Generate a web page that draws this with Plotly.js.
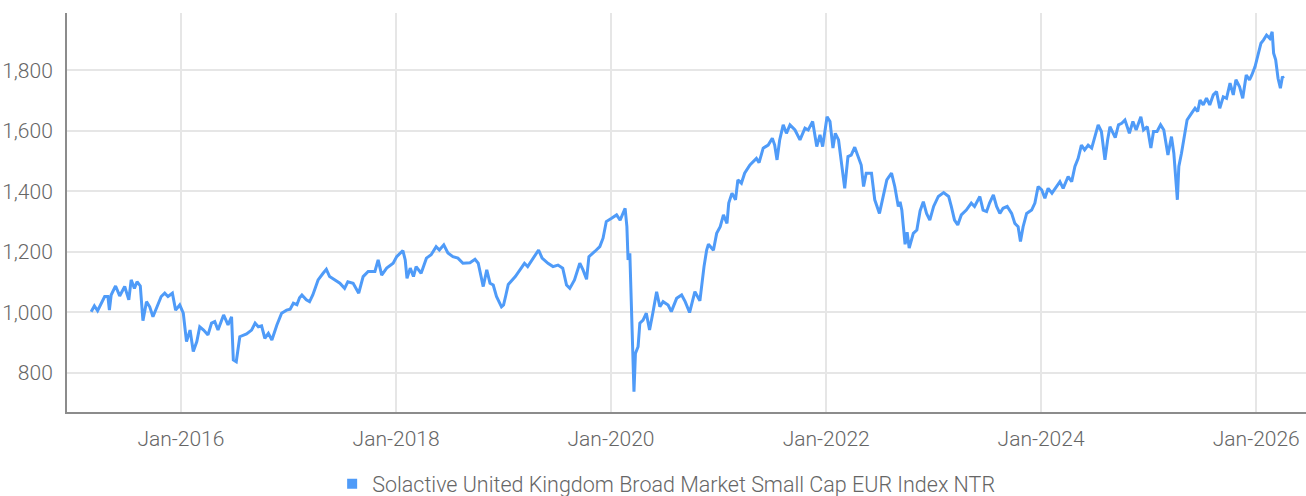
<!DOCTYPE html>
<html>
<head>
<meta charset="utf-8">
<script src="https://cdn.plot.ly/plotly-3.0.1.min.js"></script>
<style>
html,body{margin:0;padding:0;background:#fff;}
#chart{width:1306px;height:496px;}
</style>
</head>
<body>
<div id="chart"></div>
<script>
const seriesName = "Solactive United Kingdom Broad Market Small Cap EUR Index NTR";

const dates = [
"2015-03-02","2015-03-13","2015-03-24","2015-04-05","2015-04-17","2015-04-28","2015-05-03","2015-05-09","2015-05-24","2015-06-07",
"2015-06-24","2015-07-08","2015-07-16","2015-07-27","2015-08-05","2015-08-16","2015-08-25","2015-09-06","2015-09-17","2015-09-28",
"2015-10-11","2015-10-26","2015-11-07","2015-11-18","2015-12-03","2015-12-14","2015-12-28","2016-01-09","2016-01-20","2016-02-01",
"2016-02-12","2016-02-24","2016-03-05","2016-03-18","2016-04-02","2016-04-14","2016-04-25","2016-05-06","2016-05-25","2016-06-09",
"2016-06-21","2016-06-27","2016-07-07","2016-07-19","2016-08-11","2016-08-28","2016-09-09","2016-09-20","2016-10-01","2016-10-12",
"2016-10-24","2016-11-05","2016-11-22","2016-12-08","2016-12-25","2017-01-06","2017-01-17","2017-01-29","2017-02-07","2017-02-15",
"2017-03-02","2017-03-13","2017-03-24","2017-04-11","2017-04-28","2017-05-09","2017-05-20","2017-06-07","2017-06-24","2017-07-10",
"2017-07-21","2017-08-08","2017-08-27","2017-09-11","2017-09-28","2017-10-21","2017-11-01","2017-11-13","2017-11-30","2017-12-22",
"2018-01-03","2018-01-24","2018-02-01","2018-02-07","2018-02-18","2018-03-01","2018-03-10","2018-03-27","2018-04-14","2018-04-30",
"2018-05-17","2018-05-28","2018-06-12","2018-06-26","2018-07-13","2018-07-30","2018-08-16","2018-09-09","2018-09-26","2018-10-07",
"2018-10-15","2018-10-24","2018-11-05","2018-11-16","2018-11-27","2018-12-08","2018-12-25","2019-01-01","2019-01-09","2019-01-17",
"2019-02-10","2019-02-27","2019-03-13","2019-03-24","2019-04-11","2019-04-30","2019-05-12","2019-06-01","2019-06-18","2019-07-05",
"2019-07-21","2019-08-03","2019-08-14","2019-08-30","2019-09-17","2019-09-28","2019-10-10","2019-10-18","2019-11-07","2019-11-24",
"2019-12-05","2019-12-16","2020-01-03","2020-01-20","2020-02-01","2020-02-18","2020-02-24","2020-02-28","2020-03-05","2020-03-10",
"2020-03-16","2020-03-19","2020-03-24","2020-04-02","2020-04-08","2020-04-19","2020-04-30","2020-05-11","2020-05-22","2020-06-04",
"2020-06-15","2020-06-26","2020-07-13","2020-07-24","2020-08-11","2020-08-28","2020-09-09","2020-09-24","2020-10-12","2020-10-29",
"2020-11-12","2020-11-21","2020-11-27","2020-12-14","2020-12-25","2021-01-06","2021-01-17","2021-01-29","2021-02-04","2021-02-15",
"2021-02-27","2021-03-07","2021-03-19","2021-03-30","2021-04-17","2021-04-28","2021-05-09","2021-05-18","2021-06-01","2021-06-18",
"2021-07-02","2021-07-10","2021-07-18","2021-07-27","2021-08-08","2021-08-19","2021-08-31","2021-09-17","2021-10-04","2021-10-21",
"2021-11-01","2021-11-16","2021-11-30","2021-12-11","2021-12-20","2022-01-04","2022-01-14","2022-01-24","2022-02-01","2022-02-12",
"2022-02-24","2022-03-05","2022-03-16","2022-03-27","2022-04-08","2022-04-19","2022-04-30","2022-05-08","2022-05-17","2022-06-04",
"2022-06-15","2022-07-01","2022-07-13","2022-07-26","2022-08-11","2022-08-22","2022-09-03","2022-09-09","2022-09-15","2022-09-26",
"2022-10-03","2022-10-10","2022-10-24","2022-11-05","2022-11-16","2022-11-27","2022-12-08","2022-12-19","2023-01-01","2023-01-17",
"2023-02-04","2023-02-21","2023-03-02","2023-03-13","2023-03-24","2023-04-05","2023-04-22","2023-05-09","2023-05-20","2023-06-07",
"2023-06-18","2023-06-30","2023-07-10","2023-07-23","2023-08-03","2023-08-14","2023-08-25","2023-09-08","2023-09-23","2023-10-04",
"2023-10-15","2023-10-23","2023-11-01","2023-11-13","2023-11-30","2023-12-11","2023-12-22","2024-01-03","2024-01-14","2024-01-25",
"2024-02-07","2024-02-24","2024-03-05","2024-03-16","2024-04-02","2024-04-14","2024-04-25","2024-05-06","2024-05-17","2024-05-28",
"2024-06-09","2024-06-21","2024-06-28","2024-07-13","2024-07-24","2024-08-05","2024-08-14","2024-08-22","2024-09-09","2024-09-20",
"2024-10-01","2024-10-12","2024-10-27","2024-11-08","2024-11-19","2024-12-05","2024-12-14","2024-12-27","2025-01-08","2025-01-17",
"2025-01-29","2025-02-10","2025-02-21","2025-02-28","2025-03-07","2025-03-19","2025-03-27","2025-04-08","2025-04-13","2025-04-22",
"2025-04-30","2025-05-11","2025-05-26","2025-06-07","2025-06-16","2025-06-24","2025-07-05","2025-07-16","2025-07-27","2025-08-08",
"2025-08-19","2025-08-30","2025-09-11","2025-09-22","2025-10-04","2025-10-15","2025-10-24","2025-11-05","2025-11-16","2025-11-28",
"2025-12-09","2025-12-17","2025-12-28","2026-01-09","2026-01-17","2026-01-26","2026-02-05","2026-02-16","2026-02-24","2026-03-01",
"2026-03-08","2026-03-16","2026-03-24","2026-03-31","2026-04-04"
];

const values = [
1002,1021,1005,1030,1052,1052,1007,1057,1087,1054,
1085,1041,1107,1079,1101,1087,972,1035,1018,985,
1018,1052,1063,1052,1063,1007,1024,997,903,941,
870,903,952,941,925,964,969,941,991,958,
985,842,836,919,928,941,964,952,955,914,
930,908,958,997,1007,1010,1030,1025,1048,1057,
1041,1035,1057,1107,1129,1142,1118,1107,1096,1079,
1101,1096,1063,1118,1135,1135,1173,1123,1146,1162,
1184,1204,1173,1112,1146,1118,1151,1129,1179,1190,
1217,1206,1223,1196,1184,1179,1162,1164,1175,1162,
1123,1085,1140,1096,1090,1052,1018,1024,1057,1092,
1118,1140,1162,1151,1179,1206,1179,1162,1151,1156,
1146,1090,1079,1107,1162,1140,1109,1184,1201,1217,
1245,1300,1311,1322,1305,1344,1283,1173,1195,1052,
864,737,864,886,964,974,997,941,997,1068,
1018,1035,1024,1002,1046,1057,1035,999,1068,1038,
1151,1206,1225,1205,1261,1283,1322,1294,1361,1394,
1372,1438,1427,1460,1487,1498,1509,1495,1543,1553,
1576,1553,1504,1570,1620,1592,1620,1603,1570,1609,
1603,1631,1548,1587,1548,1647,1631,1543,1592,1570,
1482,1410,1515,1520,1546,1515,1487,1416,1460,1460,
1372,1327,1383,1438,1460,1416,1350,1365,1338,1225,
1265,1212,1261,1272,1335,1366,1327,1305,1350,1383,
1396,1383,1350,1305,1289,1322,1338,1361,1350,1383,
1338,1333,1361,1388,1350,1327,1344,1350,1327,1294,
1283,1234,1283,1327,1338,1361,1416,1405,1377,1410,
1394,1416,1432,1410,1449,1432,1482,1509,1553,1537,
1553,1543,1565,1620,1598,1504,1570,1614,1578,1620,
1625,1636,1592,1631,1603,1647,1603,1614,1543,1598,
1598,1620,1603,1559,1520,1581,1526,1372,1482,1526,
1576,1636,1658,1675,1664,1702,1686,1708,1686,1719,
1730,1675,1713,1708,1758,1719,1769,1747,1708,1785,
1769,1785,1813,1862,1890,1901,1917,1906,1928,1857,
1835,1774,1741,1780,1774
];

const xTickVals = ["2016-01-01","2018-01-01","2020-01-01","2022-01-01","2024-01-01","2026-01-01"];
const xTickText = ["Jan-2016","Jan-2018","Jan-2020","Jan-2022","Jan-2024","Jan-2026"];
const yTickVals = [800,1000,1200,1400,1600,1800];
const yTickText = ["800","1,000","1,200","1,400","1,600","1,800"];

const lineColor = "#4f9bf8";
const fontFamily = "Roboto, 'Noto Sans', sans-serif";
const tickFont = {family: fontFamily, size: 21, color: "#666", weight: 300};

const traces = [
  {
    x: dates, y: values, type: "scatter", mode: "lines",
    line: {color: lineColor, width: 3},
    name: seriesName, showlegend: false, hoverinfo: "x+y"
  },
  {
    x: [null], y: [null], type: "scatter", mode: "markers",
    marker: {color: lineColor, symbol: "square", size: 10},
    name: seriesName, showlegend: true
  }
];

const layout = {
  width: 1306, height: 496,
  margin: {l: 67, r: 0, t: 13, b: 84, autoexpand: false},
  paper_bgcolor: "#fff", plot_bgcolor: "#fff",
  font: tickFont,
  showlegend: true,
  legend: {orientation: "h", x: 0.214, xanchor: "left", y: -0.18, yanchor: "middle",
           font: {family: fontFamily, size: 21.5, color: "#666", weight: 300}, itemwidth: 30},
  xaxis: {
    type: "date", range: ["2014-12-10", "2026-06-19"],
    tickvals: xTickVals, ticktext: xTickText,
    showgrid: true, gridcolor: "#e6e6e6", gridwidth: 2,
    showline: true, linecolor: "#8c8c8c", linewidth: 2,
    ticks: "", ticklabelstandoff: 7, zeroline: false,
    tickfont: tickFont
  },
  yaxis: {
    range: [670, 1990],
    tickvals: yTickVals, ticktext: yTickText,
    showgrid: true, gridcolor: "#e6e6e6", gridwidth: 2,
    showline: true, linecolor: "#8c8c8c", linewidth: 2,
    ticks: "", ticklabelstandoff: 8, zeroline: false,
    tickfont: tickFont
  }
};

Plotly.newPlot("chart", traces, layout, {displayModeBar: false, staticPlot: true});
</script>
</body>
</html>
